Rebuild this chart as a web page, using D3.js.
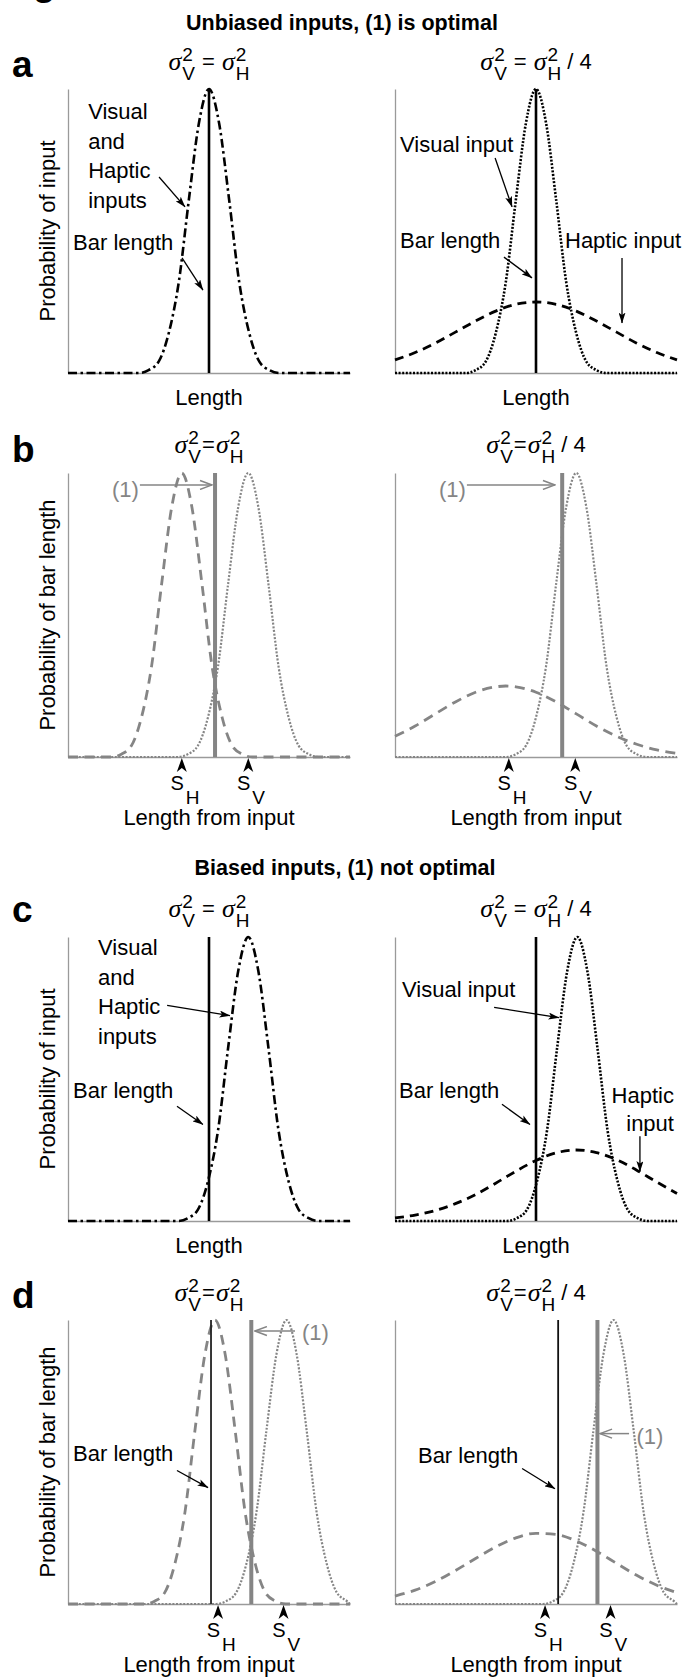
<!DOCTYPE html>
<html>
<head>
<meta charset="utf-8">
<script src="https://cdn.jsdelivr.net/npm/d3@7"></script>
<style>
  body { margin: 0; background: #fff; }
  svg { display: block; font-family: "Liberation Sans", Arial, Helvetica, sans-serif; }
</style>
</head>
<body>
<div id="chart"></div>
<script>
// ---------- data ----------
const headings = ["Unbiased inputs, (1) is optimal", "Biased inputs, (1) not optimal"];
const panelLetters = ["a", "b", "c", "d"];
const yLabels = ["Probability of input", "Probability of bar length", "Probability of input", "Probability of bar length"];
const xLabels = ["Length", "Length from input", "Length", "Length from input"];
const lengthDomain = [0, 14];

// curves: [length, probability] pairs (peak of the narrow curves = 1)
// a : unbiased inputs
const a1VH = [[0,0],[3.5,0],[4,.01],[4.5,.04],[5,.14],[5.5,.32],[6,.61],[6.5,.88],[7,1],[7.5,.88],[8,.61],[8.5,.32],[9,.14],[9.5,.04],[10,.01],[10.5,0],[14,0]];
const a2V  = [[0,0],[3.5,0],[4,.01],[4.5,.04],[5,.14],[5.5,.32],[6,.61],[6.5,.88],[7,1],[7.5,.88],[8,.61],[8.5,.32],[9,.14],[9.5,.04],[10,.01],[10.5,0],[14,0]];
const a2H  = [[0,.046],[1,.072],[2,.105],[3,.144],[4,.183],[5,.218],[6,.242],[7,.25],[8,.242],[9,.218],[10,.183],[11,.144],[12,.105],[13,.072],[14,.046]];
// b : bar length from each input
const b1H = [[0,0],[2.15,0],[2.65,.01],[3.15,.04],[3.65,.14],[4.15,.32],[4.65,.61],[5.15,.88],[5.65,1],[6.15,.88],[6.65,.61],[7.15,.32],[7.65,.14],[8.15,.04],[8.65,.01],[9.15,0],[14,0]];
const b1V = [[0,0],[5.45,0],[5.95,.01],[6.45,.04],[6.95,.14],[7.45,.32],[7.95,.61],[8.45,.88],[8.95,1],[9.45,.88],[9.95,.61],[10.45,.32],[10.95,.14],[11.45,.04],[11.95,.01],[12.45,0],[14,0]];
const b2H = [[0,.073],[1,.109],[2,.152],[3,.194],[4,.228],[5,.247],[5.5,.25],[6,.247],[7,.228],[8,.194],[9,.152],[10,.109],[11,.073],[12,.045],[13,.025],[14,.013]];
const b2V = [[0,0],[5.5,0],[6,.01],[6.5,.04],[7,.14],[7.5,.32],[8,.61],[8.5,.88],[9,1],[9.5,.88],[10,.61],[10.5,.32],[11,.14],[11.5,.04],[12,.01],[12.5,0],[14,0]];
// c : biased inputs
const c1VH = [[0,0],[5.45,0],[5.95,.01],[6.45,.04],[6.95,.14],[7.45,.32],[7.95,.61],[8.45,.88],[8.95,1],[9.45,.88],[9.95,.61],[10.45,.32],[10.95,.14],[11.45,.04],[11.95,.01],[12.45,0],[14,0]];
const c2V  = [[0,0],[5.55,0],[6.05,.01],[6.55,.04],[7.05,.14],[7.55,.32],[8.05,.61],[8.55,.88],[9.05,1],[9.55,.88],[10.05,.61],[10.55,.32],[11.05,.14],[11.55,.04],[12.05,.01],[12.55,0],[14,0]];
const c2H  = [[0,.011],[1,.021],[2,.037],[3,.061],[4,.093],[5,.133],[6,.175],[7,.213],[8,.24],[9,.25],[10,.241],[11,.216],[12,.179],[13,.137],[14,.097]];
// d : bar length from biased inputs
const d1H = [[0,0],[3.8,0],[4.3,.01],[4.8,.04],[5.3,.14],[5.8,.32],[6.3,.61],[6.8,.88],[7.3,1],[7.8,.88],[8.3,.61],[8.8,.32],[9.3,.14],[9.8,.04],[10.3,.01],[10.8,0],[14,0]];
const d1V = [[0,0],[7.35,0],[7.85,.01],[8.35,.04],[8.85,.14],[9.35,.32],[9.85,.61],[10.35,.88],[10.85,1],[11.35,.88],[11.85,.61],[12.35,.32],[12.85,.14],[13.35,.04],[13.85,.01],[14,0]];
const d2H = [[0,.028],[1,.049],[2,.079],[3,.118],[4,.16],[5,.201],[6,.233],[7,.249],[8,.245],[9,.222],[10,.186],[11,.143],[12,.101],[13,.066],[14,.04]];
const d2V = [[0,0],[7.35,0],[7.85,.01],[8.35,.04],[8.85,.14],[9.35,.32],[9.85,.61],[10.35,.88],[10.85,1],[11.35,.88],[11.85,.61],[12.35,.32],[12.85,.14],[13.35,.04],[13.85,.01],[14,0]];

// per panel (a-left, a-right, b-left, b-right, c-left, c-right, d-left, d-right)
const barLength = [7, 7, null, null, 7, 7, 7.1, 8.1];
const optimal   = [null, null, 7.3, 8.3, null, null, 9.1, 10.05];
const sHaptic   = [null, null, 5.65, 5.65, null, null, 7.45, 7.45];
const sVisual   = [null, null, 8.95, 8.95, null, null, 10.7, 10.7];

// ---------- layout ----------
const colX = [68, 395];
const rowTop = [89, 473, 937, 1320];
const panelW = 282, panelH = 284;
const gray = "#858585";

const styles = {
  dashdot:   {stroke: "#000", w: 2.6, dash: "9,3.5,2.5,3.5"},
  dotBlack:  {stroke: "#000", w: 2.6, dash: "2,1.6"},
  dashBlack: {stroke: "#000", w: 2.8, dash: "9,6"},
  dashGray:  {stroke: gray,   w: 2.8, dash: "10,6.5"},
  dotGray:   {stroke: gray,   w: 2.2, dash: "2,1.6"}
};

const panels = [
  {row: 0, col: 0, curves: [[a1VH, "dashdot"]], barW: 2.6, barC: "#000",
   notes: [{lines: ["Visual", "and", "Haptic", "inputs"], at: [1.0, .894]}, {lines: ["Bar length"], at: [.25, .433]}],
   arrows: [[[4.52, .69], [5.81, .585]], [[5.66, .405], [6.7, .292]]]},
  {row: 0, col: 1, curves: [[a2H, "dashBlack"], [a2V, "dotBlack"]], barW: 2.6, barC: "#000",
   notes: [{lines: ["Visual input"], at: [.25, .778]}, {lines: ["Bar length"], at: [.25, .44]}, {lines: ["Haptic input"], at: [8.44, .44]}],
   arrows: [[[4.97, .757], [5.81, .585]], [[5.41, .408], [6.8, .335]], [[11.27, .405], [11.27, .176]]]},
  {row: 1, col: 0, curves: [[b1H, "dashGray"], [b1V, "dotGray"]],
   notes: [{lines: ["(1)"], at: [2.18, .915], gray: true}],
   arrows: [[[3.57, .958], [7.15, .958], true]]},
  {row: 1, col: 1, curves: [[b2H, "dashGray"], [b2V, "dotGray"]],
   notes: [{lines: ["(1)"], at: [2.18, .915], gray: true}],
   arrows: [[[3.57, .958], [7.94, .958], true]]},
  {row: 2, col: 0, curves: [[c1VH, "dashdot"]], barW: 2.6, barC: "#000",
   notes: [{lines: ["Visual", "and", "Haptic", "inputs"], at: [1.49, .936]}, {lines: ["Bar length"], at: [.25, .433]}],
   arrows: [[[4.92, .759], [8.04, .723]], [[5.41, .404], [6.7, .34]]]},
  {row: 2, col: 1, curves: [[c2H, "dashBlack"], [c2V, "dotBlack"]], barW: 2.6, barC: "#000",
   notes: [{lines: ["Visual input"], at: [.35, .787]}, {lines: ["Bar length"], at: [.2, .433]},
           {lines: ["Haptic", "input"], at: [13.85, .415], anchor: "end", lh: 28}],
   arrows: [[[4.92, .752], [8.14, .716]], [[5.31, .411], [6.7, .34]], [[12.16, .298], [12.16, .174]]]},
  {row: 3, col: 0, curves: [[d1H, "dashGray"], [d1V, "dotGray"]], barW: 1.8, barC: "#222",
   notes: [{lines: ["(1)"], at: [11.62, .929], gray: true}, {lines: ["Bar length"], at: [.25, .505]}],
   arrows: [[[11.27, .961], [9.28, .961], true], [[5.41, .47], [6.95, .41]]]},
  {row: 3, col: 1, curves: [[d2H, "dashGray"], [d2V, "dotGray"]], barW: 1.8, barC: "#111",
   notes: [{lines: ["(1)"], at: [11.99, .565], gray: true}, {lines: ["Bar length"], at: [1.14, .498]}],
   arrows: [[[11.62, .6], [10.18, .6], true], [[6.31, .477], [7.94, .406]]]}
];

const svg = d3.select("#chart").append("svg")
    .attr("width", 684)
    .attr("height", 1677);

// arrow heads
const defs = svg.append("defs");
defs.append("marker")
    .attr("id", "headBlack").attr("markerUnits", "userSpaceOnUse")
    .attr("viewBox", "0 0 11 7").attr("refX", 10.5).attr("refY", 3.5)
    .attr("markerWidth", 11).attr("markerHeight", 7).attr("orient", "auto")
  .append("path").attr("d", "M0,0 L11,3.5 L0,7 L2.5,3.5 Z").attr("fill", "#000");
defs.append("marker")
    .attr("id", "headGray").attr("markerUnits", "userSpaceOnUse")
    .attr("viewBox", "-1 -1 14 11").attr("refX", 12).attr("refY", 4.5)
    .attr("markerWidth", 14).attr("markerHeight", 11).attr("orient", "auto")
  .append("path").attr("d", "M0,0 L12,4.5 L0,9").attr("fill", "none")
    .attr("stroke", gray).attr("stroke-width", 1.5);

// sigma^2 label built piece by piece so the sub/superscripts stack
function sigmaLabel(cx, by, spaced, quarter) {
  const g = svg.append("g");
  let x = 0;
  function piece(txt, size, dy, serif) {
    const t = g.append("text").attr("x", x).attr("y", dy)
        .style("font-size", size + "px").text(txt);
    if (serif) t.style("font-family", "'Liberation Serif', 'Times New Roman', serif").style("font-style", "italic");
    return t.node().getComputedTextLength();
  }
  function sigma(sub) {
    x += piece("σ", 26, 0, true) + 1;
    const w1 = piece("2", 19, -9);
    const w2 = piece(sub, 19, 10);
    x += Math.max(w1, w2);
  }
  sigma("V");
  x += spaced ? 7 : 1;
  x += piece("=", 22, -1);
  x += spaced ? 7 : 1;
  sigma("H");
  if (quarter) { x += 6; x += piece("/ 4", 22, -1); }
  g.attr("transform", `translate(${cx - x / 2},${by})`);
}

const sigmaBase = [70, 453, 917, 1301];
const letterBase = [77, 462, 922, 1308];

panels.forEach((p, i) => {
  const x0 = colX[p.col], top = rowTop[p.row];
  const x = d3.scaleLinear().domain(lengthDomain).range([x0, x0 + panelW]);
  const y = d3.scaleLinear().domain([0, 1]).range([top + panelH, top]);
  const g = svg.append("g");

  // axes: plain grey lines, no ticks
  const ax = g.append("g").attr("transform", "translate(0," + y(0) + ")")
      .call(d3.axisBottom(x).tickValues([]).tickSizeOuter(0));
  const ay = g.append("g").attr("transform", "translate(" + x0 + ",0)")
      .call(d3.axisLeft(y).tickValues([]).tickSizeOuter(0));
  [ax, ay].forEach(a => a.select(".domain").attr("stroke", "#9a9a9a").attr("stroke-width", 1.3));

  const line = d3.line()
      .curve(d3.curveMonotoneX)
      .x(d => x(d[0]))
      .y(d => y(d[1]));

  p.curves.forEach(([data, key]) => {
    const s = styles[key];
    g.append("path").datum(data)
        .attr("d", line)
        .attr("fill", "none")
        .attr("stroke", s.stroke)
        .attr("stroke-width", s.w)
        .attr("stroke-dasharray", s.dash);
  });

  if (optimal[i] != null) {
    g.append("line")
        .attr("x1", x(optimal[i])).attr("x2", x(optimal[i]))
        .attr("y1", y(0)).attr("y2", y(1))
        .attr("stroke", gray).attr("stroke-width", 4);
  }
  if (barLength[i] != null) {
    g.append("line")
        .attr("x1", x(barLength[i])).attr("x2", x(barLength[i]))
        .attr("y1", y(0)).attr("y2", y(1))
        .attr("stroke", p.barC).attr("stroke-width", p.barW);
  }

  // S_H / S_V markers under the axis
  [[sHaptic[i], "H"], [sVisual[i], "V"]].forEach(([v, sub]) => {
    if (v == null) return;
    const px = x(v), py = y(0);
    g.append("path").attr("d", `M${px},${py + 1} l5,14 l-5,-4 l-5,4 Z`).attr("fill", "#000");
    g.append("text").attr("x", px + 2).attr("y", py + 33)
        .attr("text-anchor", "end").style("font-size", "20px").text("S");
    g.append("text").attr("x", px + 4).attr("y", py + 47)
        .style("font-size", "19px").text(sub);
  });

  // annotations
  p.notes.forEach(n => {
    n.lines.forEach((t, k) => {
      g.append("text")
          .attr("x", x(n.at[0]))
          .attr("y", y(n.at[1]) + k * (n.lh || 29.5))
          .attr("text-anchor", n.anchor || "start")
          .attr("fill", n.gray ? gray : "#000")
          .style("font-size", "22px")
          .text(t);
    });
  });
  p.arrows.forEach(([a, b, isGray]) => {
    g.append("line")
        .attr("x1", x(a[0])).attr("y1", y(a[1]))
        .attr("x2", x(b[0])).attr("y2", y(b[1]))
        .attr("stroke", isGray ? gray : "#000")
        .attr("stroke-width", isGray ? 1.5 : 1.3)
        .attr("marker-end", isGray ? "url(#headGray)" : "url(#headBlack)");
  });

  // axis titles
  const xlabY = p.row % 2 === 0 ? y(0) + 32 : y(0) + 68;
  g.append("text").attr("x", x0 + panelW / 2).attr("y", xlabY)
      .attr("text-anchor", "middle").style("font-size", "22px").text(xLabels[p.row]);
  if (p.col === 0) {
    g.append("text")
        .attr("transform", `translate(55,${top + panelH / 2}) rotate(-90)`)
        .attr("text-anchor", "middle").style("font-size", "22px").text(yLabels[p.row]);
  }

  sigmaLabel(x0 + panelW / 2, sigmaBase[p.row], p.row % 2 === 0, p.col === 1);
});

// headings and panel letters
svg.append("text").attr("x", 342).attr("y", 30).attr("text-anchor", "middle")
    .style("font-size", "21.5px").style("font-weight", "bold").text(headings[0]);
svg.append("text").attr("x", 345).attr("y", 875).attr("text-anchor", "middle")
    .style("font-size", "21.5px").style("font-weight", "bold").text(headings[1]);
panelLetters.forEach((l, k) => {
  svg.append("text").attr("x", 12).attr("y", letterBase[k])
      .style("font-size", "37px").style("font-weight", "bold").text(l);
});
// figure title cut off at the top edge (only the descender shows)
svg.append("text").attr("x", 0).attr("y", -5)
    .style("font-size", "37px").style("font-weight", "bold").text("Fig");
</script>
</body>
</html>
